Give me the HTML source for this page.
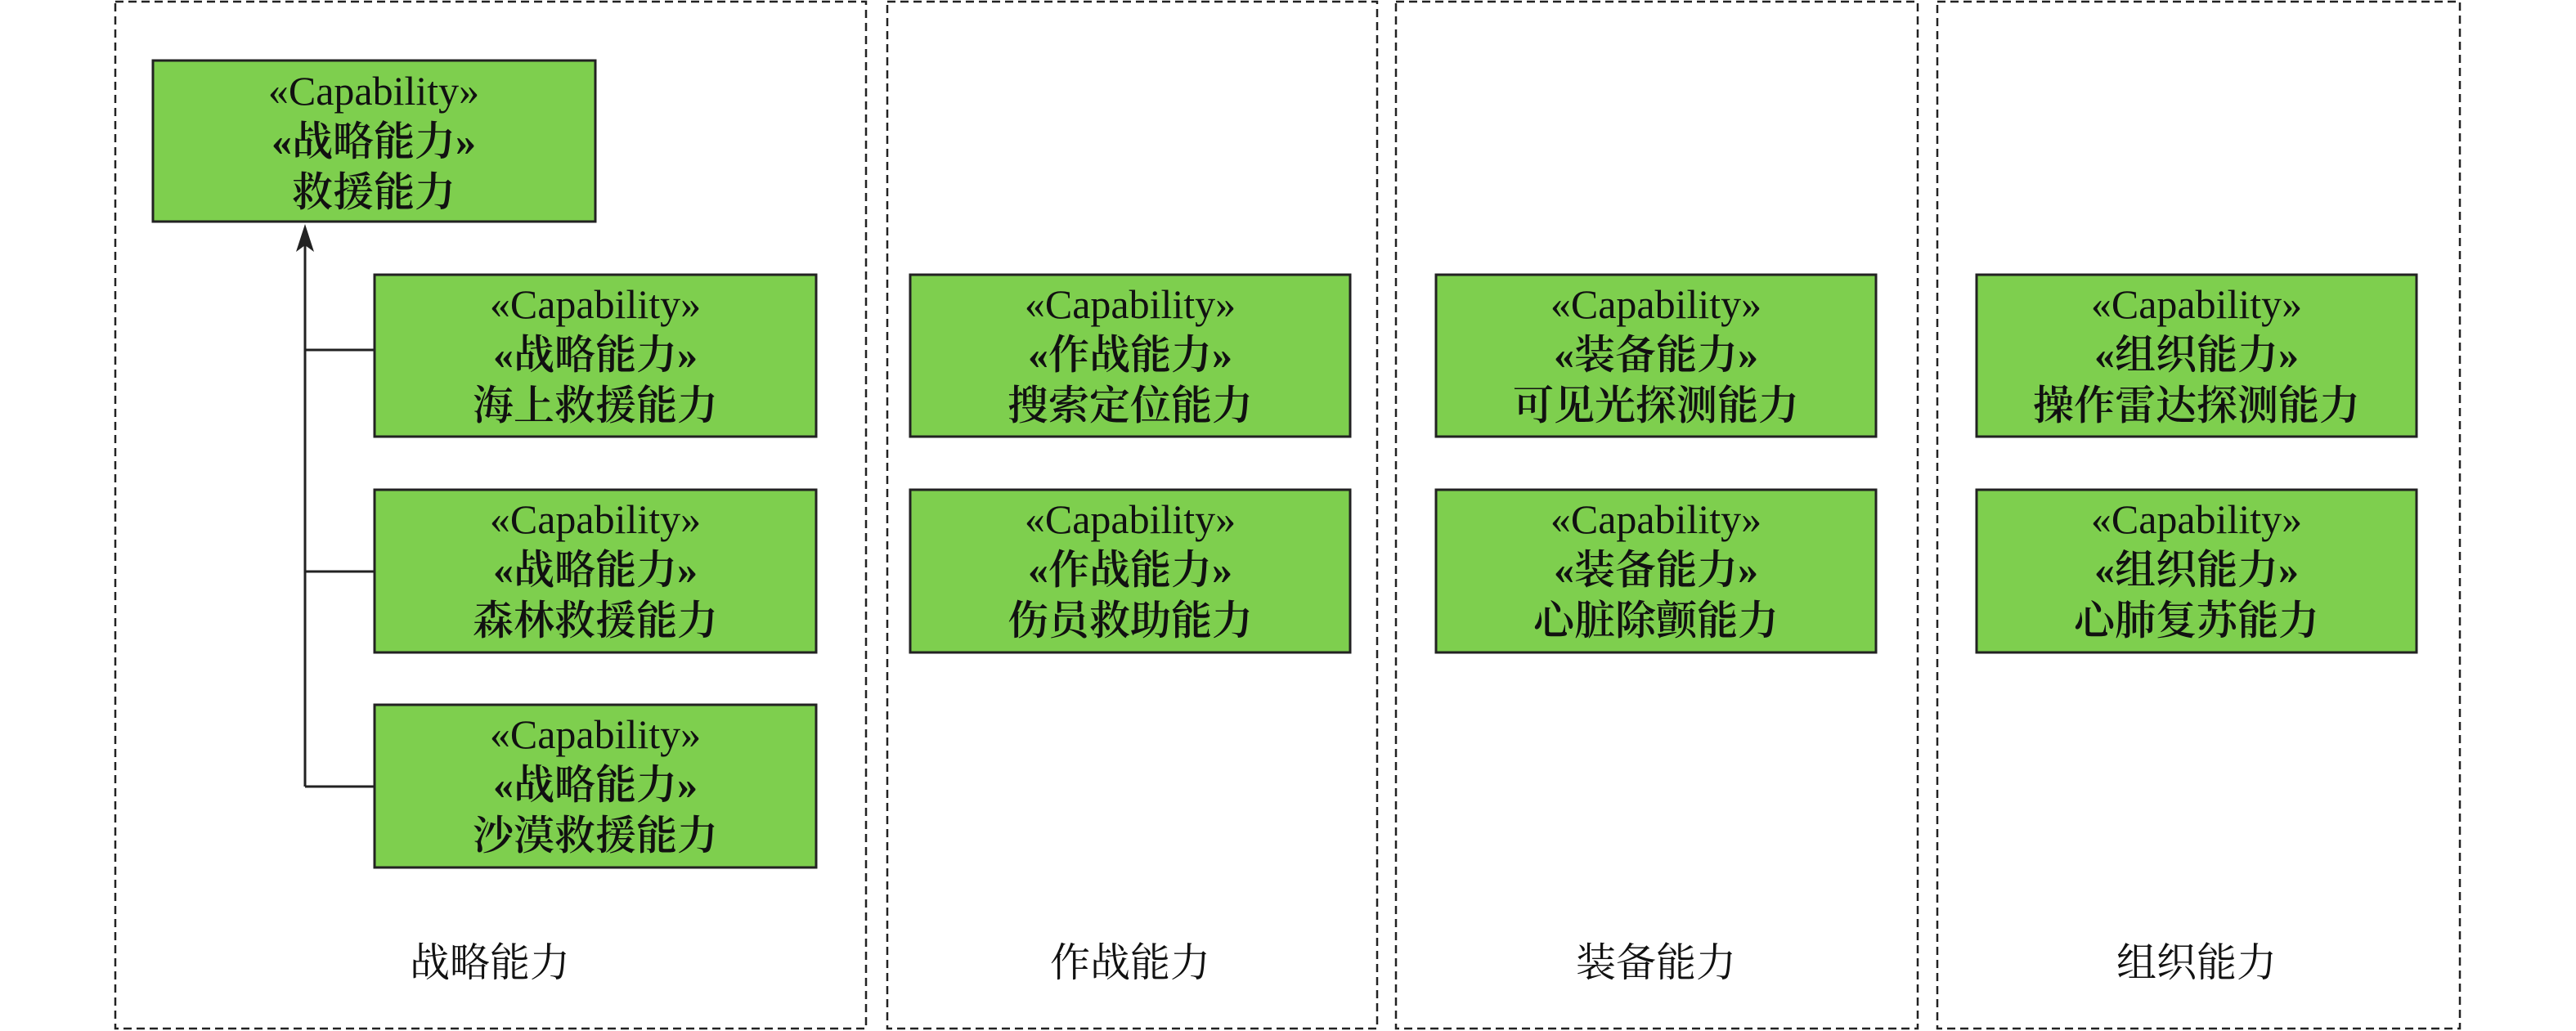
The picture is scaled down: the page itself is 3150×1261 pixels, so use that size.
<!DOCTYPE html>
<html><head><meta charset="utf-8"><style>
html,body{margin:0;padding:0;background:#fff;}
svg{display:block;}
text{font-family:"Liberation Serif","Noto Serif CJK SC",serif;fill:#111;text-anchor:middle;}
.b{fill:#7ecf4e;stroke:#222;stroke-width:3;}
.p{fill:none;stroke:#222;stroke-width:2.5;stroke-dasharray:10,6;}
.c{font-size:50px;}
.z{font-size:50px;font-weight:600;}
</style></head><body>
<svg width="3150" height="1261" viewBox="0 0 3150 1261" xmlns="http://www.w3.org/2000/svg">
<rect class="p" x="141" y="2" width="918" height="1256"/>
<rect class="p" x="1085" y="2" width="599" height="1256"/>
<rect class="p" x="1707" y="2" width="638" height="1256"/>
<rect class="p" x="2369" y="2" width="639" height="1256"/>

<g font-size="49">
<text x="599" y="1194">战略能力</text>
<text x="1382" y="1194">作战能力</text>
<text x="2025" y="1194">装备能力</text>
<text x="2686" y="1194">组织能力</text>
</g>

<g stroke="#222" stroke-width="3" fill="none">
<line x1="373" y1="295" x2="373" y2="962"/>
<line x1="373" y1="428" x2="458" y2="428"/>
<line x1="373" y1="699" x2="458" y2="699"/>
<line x1="373" y1="962" x2="458" y2="962"/>
</g>
<polygon points="373,274 362,308 373,300 384,308" fill="#222"/>

<rect class="b" x="187" y="74" width="541" height="197"/>
<text class="c" x="457" y="128">«Capability»</text><text class="z" x="457" y="190">«战略能力»</text><text class="z" x="457" y="252">救援能力</text>

<rect class="b" x="458" y="336" width="540" height="198"/>
<text class="c" x="728" y="389">«Capability»</text><text class="z" x="728" y="451">«战略能力»</text><text class="z" x="728" y="513">海上救援能力</text>
<rect class="b" x="458" y="599" width="540" height="199"/>
<text class="c" x="728" y="652">«Capability»</text><text class="z" x="728" y="714">«战略能力»</text><text class="z" x="728" y="776">森林救援能力</text>
<rect class="b" x="458" y="862" width="540" height="199"/>
<text class="c" x="728" y="915">«Capability»</text><text class="z" x="728" y="977">«战略能力»</text><text class="z" x="728" y="1039">沙漠救援能力</text>

<rect class="b" x="1113" y="336" width="538" height="198"/>
<text class="c" x="1382" y="389">«Capability»</text><text class="z" x="1382" y="451">«作战能力»</text><text class="z" x="1382" y="513">搜索定位能力</text>
<rect class="b" x="1113" y="599" width="538" height="199"/>
<text class="c" x="1382" y="652">«Capability»</text><text class="z" x="1382" y="714">«作战能力»</text><text class="z" x="1382" y="776">伤员救助能力</text>

<rect class="b" x="1756" y="336" width="538" height="198"/>
<text class="c" x="2025" y="389">«Capability»</text><text class="z" x="2025" y="451">«装备能力»</text><text class="z" x="2025" y="513">可见光探测能力</text>
<rect class="b" x="1756" y="599" width="538" height="199"/>
<text class="c" x="2025" y="652">«Capability»</text><text class="z" x="2025" y="714">«装备能力»</text><text class="z" x="2025" y="776">心脏除颤能力</text>

<rect class="b" x="2417" y="336" width="538" height="198"/>
<text class="c" x="2686" y="389">«Capability»</text><text class="z" x="2686" y="451">«组织能力»</text><text class="z" x="2686" y="513">操作雷达探测能力</text>
<rect class="b" x="2417" y="599" width="538" height="199"/>
<text class="c" x="2686" y="652">«Capability»</text><text class="z" x="2686" y="714">«组织能力»</text><text class="z" x="2686" y="776">心肺复苏能力</text>
</svg>
</body></html>
